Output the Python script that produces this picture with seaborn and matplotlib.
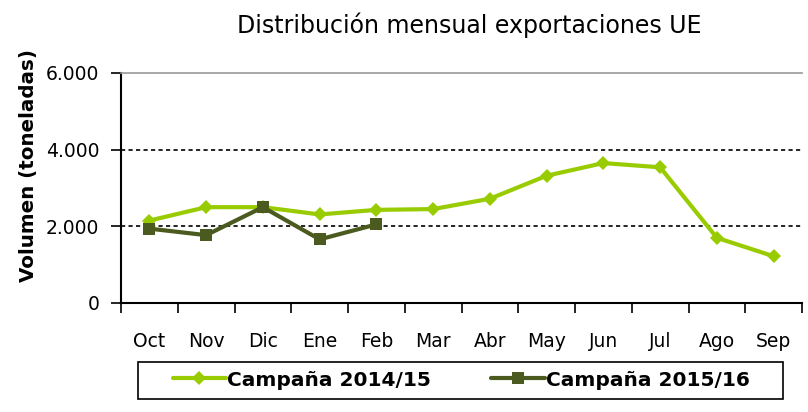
import matplotlib
matplotlib.use("Agg")
import matplotlib.pyplot as plt
import seaborn as sns
import pandas as pd
import numpy as np
from matplotlib.ticker import FixedLocator, FuncFormatter
from matplotlib.patches import Rectangle

months = ["Oct", "Nov", "Dic", "Ene", "Feb", "Mar", "Abr", "May", "Jun", "Jul", "Ago", "Sep"]
serie_2014 = [2150, 2500, 2500, 2310, 2430, 2450, 2720, 3320, 3650, 3540, 1700, 1220]
serie_2015 = [1940, 1770, 2500, 1660, 2050]
labels = ["Campaña 2014/15", "Campaña 2015/16"]
yticks = [0, 2000, 4000, 6000]

df = pd.concat([
    pd.DataFrame({"mes": months, "val": serie_2014, "serie": labels[0]}),
    pd.DataFrame({"mes": months[:len(serie_2015)], "val": serie_2015, "serie": labels[1]}),
])
df["pos"] = df["mes"].map({m: i for i, m in enumerate(months)})

sns.set_style("white")
plt.rcParams["font.family"] = ["DejaVu Sans"]
plt.rcParams["text.color"] = "black"
plt.rcParams["axes.labelcolor"] = "black"
plt.rcParams["xtick.color"] = "black"
plt.rcParams["ytick.color"] = "black"

W, H = 808, 412
fig = plt.figure(figsize=(W/100, H/100), dpi=100)
ax = fig.add_axes([121/W, 1-303/H, (802-121)/W, (303-73)/H])

palette = {labels[0]: "#99cc00", labels[1]: "#4b5a1f"}
sns.lineplot(data=df, x="pos", y="val", hue="serie", style="serie",
             markers={labels[0]: "D", labels[1]: "s"}, dashes=False,
             palette=palette, linewidth=3, markersize=8, markeredgewidth=0,
             sort=False, ax=ax, legend=True)
for line in ax.get_lines():
    if line.get_marker() == "D":
        line.set_markersize(7)
    elif line.get_marker() == "s":
        line.set_markersize(9)

ax.set_xlim(-0.5, len(months) - 0.5)
ax.set_ylim(0, 6000)
ax.set_xticks(range(len(months)))
ax.set_xticklabels(months, fontsize=13.5)
ax.xaxis.set_minor_locator(FixedLocator(np.arange(-0.5, len(months), 1)))
ax.tick_params(axis="x", which="major", bottom=True, length=0, pad=21)
ax.tick_params(axis="x", which="minor", bottom=True, length=7, width=1.2, color="black", direction="out")
ax.set_yticks(yticks)
ax.yaxis.set_major_formatter(FuncFormatter(lambda v, p: f"{int(v):,}".replace(",", ".")))
ax.tick_params(axis="y", left=True, length=7.5, width=1.2, color="black", direction="out",
               pad=8, labelsize=13.5)
for y in yticks[1:-1]:
    ax.axhline(y, color="black", linestyle=(0, (2.5, 2)), linewidth=1.2, zorder=0)

for s in ["left", "bottom"]:
    ax.spines[s].set_color("black")
    ax.spines[s].set_linewidth(1.5)
ax.spines["top"].set_color("#999999")
ax.spines["top"].set_linewidth(1.2)
ax.spines["right"].set_visible(False)

ax.set_xlabel("")
ax.set_ylabel("")
fig.text(29/W, 1-166/H, "Volumen (toneladas)", rotation=90, ha="center", va="center",
         fontsize=14.3, fontweight="bold")

fig.text(469/W, 1-25/H, "Distribución mensual exportaciones UE", ha="center", va="center",
         fontsize=17)

handles, lbls = ax.get_legend_handles_labels()
ax.get_legend().remove()
leg = fig.legend(handles, lbls, loc="center", bbox_to_anchor=(461/W, 1-380/H), ncol=2,
                 frameon=False, handlelength=2.65,
                 handletextpad=0.05, columnspacing=3.0, prop={"size": 14.5, "weight": "bold"},
                 borderpad=0.35)
fig.patches.append(Rectangle((138/W, 1-399/H), (783-138)/W, (399-362)/H,
                             transform=fig.transFigure, fill=False, edgecolor="black",
                             linewidth=1.2))

fig.savefig("out.png", dpi=100)
